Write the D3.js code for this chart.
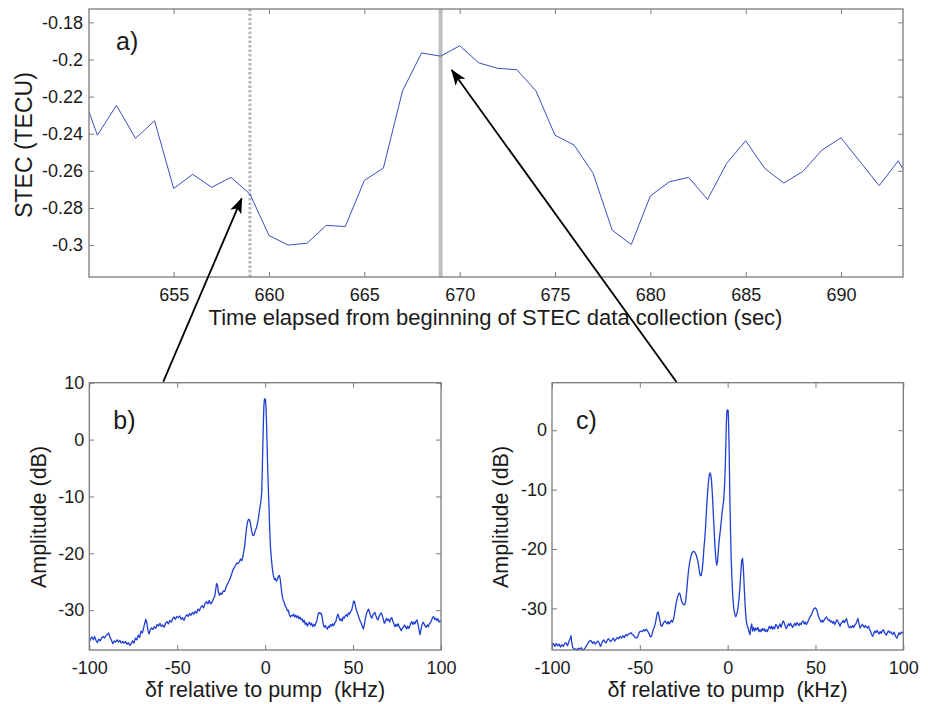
<!DOCTYPE html>
<html lang="en">
<head>
<meta charset="UTF-8">
<style>
    body { margin: 0; background: #fff; }
    svg text { font-family: "Liberation Sans", Arial, sans-serif; fill: #1a1a1a; }
    .tick text { font-size: 18px; }
    .axis path.domain { display: none; }
    .axis line { stroke: #7a7a7a; }
    .lbl { font-size: 21.5px; white-space: pre; }
    .panel { font-size: 25px; }
</style>
<script src="https://cdn.jsdelivr.net/npm/d3@7"></script>
</head>
<body>
<div id="chart"></div>
<script>
// panel a: STEC time series (one sample per second)
var stecTime = [650, 651, 652, 653, 654, 655, 656, 657, 658, 659, 660, 661, 662, 663, 664,
    665, 666, 667, 668, 669, 670, 671, 672, 673, 674, 675, 676, 677, 678, 679, 680, 681,
    682, 683, 684, 685, 686, 687, 688, 689, 690, 691, 692, 693, 694];
var stecValue = [-0.212, -0.2408, -0.2247, -0.2425, -0.2330, -0.2695, -0.2619, -0.2689, -0.2635,
    -0.2725, -0.2948, -0.3000, -0.2990, -0.2894, -0.2900, -0.2652, -0.2585, -0.2170, -0.1965,
    -0.1982, -0.1926, -0.2018, -0.2048, -0.2055, -0.2169, -0.2408, -0.2461, -0.2614, -0.2920,
    -0.2997, -0.2735, -0.2659, -0.2635, -0.2754, -0.2560, -0.2438, -0.2587, -0.2666, -0.2603,
    -0.2488, -0.2422, -0.2551, -0.2680, -0.2546, -0.2725];
var markerDotted = 659, markerSolid = 669;
var stecTicksY = [-0.3, -0.28, -0.26, -0.24, -0.22, -0.2, -0.18];
var stecTicksX = [655, 660, 665, 670, 675, 680, 685, 690];

// panel b: spectrum at t = 659 s  [kHz, dB]
var spectrumB = [[-100,-35.6],[-99.2,-35.0],[-98.5,-34.7],[-97.7,-35.2],[-97,-34.6],[-96.2,-35.3],[-95.4,-35.7],
    [-94.6,-35.1],[-93.8,-35.4],[-93,-34.9],[-92.2,-34.6],[-91.4,-34.9],[-90.6,-34.5],[-89.8,-34.3],[-89,-34.0],
    [-88.2,-34.8],[-87.4,-35.3],[-86.6,-35.9],[-85.8,-35.4],[-85,-35.6],[-84.2,-35.2],[-83.4,-35.6],[-82.6,-35.3],
    [-81.8,-35.8],[-81,-35.5],[-80.2,-35.8],[-79.4,-35.5],[-78.6,-36.0],[-77.8,-35.7],[-77,-36.2],[-76.2,-35.9],
    [-75.4,-35.4],[-74.6,-35.8],[-73.8,-34.9],[-73,-35.2],[-72.2,-34.4],[-71.4,-34.8],[-70.6,-33.7],[-69.8,-34.0],
    [-69,-33.0],[-68.4,-32.2],[-67.8,-31.6],[-67.2,-32.4],[-66.6,-33.6],[-66,-34.2],[-65.4,-33.5],[-64.6,-33.1],
    [-63.8,-33.4],[-63,-32.9],[-62.2,-33.2],[-61.4,-32.5],[-60.6,-32.8],[-59.8,-32.3],[-59,-32.9],[-58.2,-32.6],
    [-57.4,-33.0],[-56.6,-32.3],[-55.8,-32.0],[-55,-32.4],[-54.2,-31.8],[-53.4,-32.1],[-52.6,-31.5],[-51.8,-31.2],
    [-51,-31.6],[-50.2,-31.1],[-49.4,-31.3],[-48.6,-31.0],[-47.8,-31.6],[-47,-31.3],[-46.2,-31.8],[-45.4,-31.2],
    [-44.6,-30.8],[-43.8,-31.1],[-43,-30.6],[-42.2,-30.9],[-41.4,-30.4],[-40.6,-30.7],[-39.8,-30.2],[-39,-30.5],
    [-38.2,-29.8],[-37.4,-30.1],[-36.6,-29.5],[-35.8,-29.2],[-35,-29.6],[-34.2,-28.8],[-33.4,-28.5],[-32.6,-28.9],
    [-31.8,-28.3],[-31,-28.9],[-30.2,-28.6],[-29.4,-28.0],[-28.7,-27.6],[-28.1,-26.4],[-27.6,-25.3],[-27.1,-25.6],
    [-26.6,-26.8],[-26,-27.4],[-25.4,-27.0],[-24.6,-27.2],[-23.8,-26.6],[-23,-26.7],[-22.2,-25.9],[-21.4,-25.4],
    [-20.6,-24.9],[-19.8,-24.3],[-19,-23.6],[-18.3,-22.9],[-17.5,-22.5],[-16.8,-22.1],[-16.1,-21.7],[-15.4,-21.8],
    [-14.7,-21.5],[-14,-21.0],[-13.3,-21.3],[-12.7,-20.6],[-12.1,-19.6],[-11.6,-18.6],[-11.1,-17.0],[-10.6,-15.6],
    [-10.1,-14.6],[-9.6,-14.1],[-9.1,-14.0],[-8.6,-14.4],[-8.1,-15.2],[-7.6,-16.2],[-7.1,-16.8],[-6.6,-16.9],
    [-6.1,-16.6],[-5.6,-16.0],[-5.0,-15.6],[-4.4,-14.8],[-3.8,-13.8],[-3.3,-12.6],[-2.8,-11.6],[-2.3,-10.5],
    [-1.95,-9.4],[-1.6,-5.0],[-1.3,-0.8],[-1.0,3.0],[-0.7,6.0],[-0.4,7.1],[-0.1,7.2],[0.2,6.9],[0.5,5.6],
    [0.8,2.8],[1.1,-0.8],[1.4,-4.5],[1.8,-8.5],[2.2,-12.0],[2.6,-15.8],[3.0,-18.8],[3.5,-20.8],[4.0,-22.4],
    [4.6,-23.8],[5.2,-24.6],[5.8,-24.4],[6.4,-24.9],[7.0,-24.6],[7.6,-24.0],[8.1,-23.9],[8.6,-24.6],[9.1,-26.0],
    [9.6,-27.3],[10.2,-28.2],[10.8,-28.6],[11.4,-29.3],[12,-29.5],[12.6,-30.1],[13.2,-30.0],[13.8,-30.8],
    [14.4,-31.2],[15,-30.9],[15.6,-31.0],[16.2,-30.7],[16.8,-31.2],[17.4,-30.9],[18,-31.3],[18.6,-31.0],
    [19.2,-31.5],[19.8,-31.2],[20.4,-31.7],[21,-31.5],[21.6,-32.1],[22.2,-31.8],[22.8,-32.5],[23.4,-32.2],
    [24,-32.8],[24.6,-32.4],[25.2,-32.1],[25.8,-32.6],[26.4,-32.3],[27,-32.9],[27.6,-32.5],[28.2,-32.8],
    [28.8,-32.3],[29.4,-31.9],[30,-30.8],[30.6,-30.4],[31.2,-30.6],[31.8,-30.5],[32.4,-31.2],[33,-32.4],
    [33.6,-33.0],[34.2,-32.7],[34.8,-33.1],[35.4,-33.3],[36,-32.8],[36.6,-33.0],[37.2,-32.5],[37.8,-32.8],
    [38.4,-32.4],[39,-32.7],[39.6,-32.2],[40.2,-32.0],[40.8,-31.2],[41.4,-30.7],[42,-31.3],[42.6,-31.8],
    [43.2,-31.5],[43.8,-31.9],[44.4,-31.2],[45,-31.4],[45.6,-31.0],[46.2,-30.8],[46.8,-31.1],[47.4,-30.5],
    [48,-30.7],[48.6,-30.2],[49.2,-30.0],[49.8,-29.2],[50.3,-28.4],[50.8,-28.5],[51.3,-29.2],[51.8,-29.9],
    [52.4,-30.4],[53,-31.0],[53.6,-31.6],[54.2,-32.0],[54.8,-32.4],[55.4,-33.0],[55.9,-33.3],[56.5,-32.4],
    [57,-31.5],[57.6,-30.6],[58.2,-30.2],[58.8,-29.8],[59.4,-30.4],[60,-31.0],[60.6,-31.4],[61.2,-30.9],
    [61.8,-30.6],[62.4,-30.4],[63,-31.0],[63.6,-31.5],[64.2,-31.7],[64.8,-31.1],[65.4,-30.7],[66,-30.5],
    [66.6,-30.9],[67.2,-31.6],[67.8,-32.3],[68.4,-32.0],[69,-31.4],[69.6,-31.8],[70.2,-31.6],[70.8,-32.1],
    [71.4,-31.5],[72,-31.3],[72.6,-31.9],[73.2,-32.4],[73.8,-32.9],[74.4,-32.5],[75,-32.8],[75.6,-32.4],
    [76.2,-32.9],[76.8,-33.2],[77.4,-33.6],[78,-33.2],[78.6,-33.0],[79.2,-32.6],[79.8,-32.9],[80.4,-33.3],
    [81,-32.8],[81.6,-33.2],[82.2,-32.9],[82.8,-32.3],[83.4,-32.0],[84,-32.5],[84.6,-32.1],[85.2,-32.4],
    [85.8,-31.9],[86.4,-31.7],[87,-32.6],[87.6,-33.6],[88.1,-34.3],[88.6,-33.4],[89.2,-32.6],[89.8,-32.1],
    [90.4,-32.4],[91,-32.8],[91.6,-33.0],[92.2,-32.6],[92.8,-32.9],[93.4,-32.4],[94,-32.2],[94.6,-31.8],
    [95.2,-31.3],[95.8,-31.1],[96.4,-31.6],[97,-31.4],[97.6,-31.8],[98.2,-31.5],[98.8,-32.1],[99.4,-31.9],[100,-32.0]];

// panel c: spectrum at t = 669 s  [kHz, dB]
var spectrumC = [[-100,-36.2],[-99.2,-35.9],[-98.4,-36.4],[-97.6,-35.9],[-96.8,-36.3],[-96,-36.0],[-95.2,-36.5],
    [-94.4,-36.1],[-93.6,-36.4],[-92.8,-35.9],[-92,-35.8],[-91.2,-36.3],[-90.4,-35.6],[-89.6,-35.0],[-89.2,-34.6],
    [-88.8,-35.6],[-88.2,-36.6],[-87.4,-36.9],[-86.6,-36.8],[-85.8,-37.0],[-85,-36.7],[-84.2,-36.9],[-83.4,-36.6],
    [-82.6,-37.0],[-81.8,-36.9],[-81,-36.6],[-80.2,-36.2],[-79.6,-35.9],[-79,-35.6],[-78.2,-35.4],[-77.6,-35.5],
    [-77,-35.9],[-76.2,-35.6],[-75.4,-36.0],[-74.6,-35.7],[-73.8,-35.5],[-73,-35.9],[-72.4,-36.4],[-71.8,-36.0],
    [-71.2,-35.5],[-70.6,-35.3],[-70,-35.6],[-69.3,-35.8],[-68.6,-35.4],[-68,-35.1],[-67.4,-35.3],[-66.6,-35.6],
    [-65.8,-35.3],[-65,-35.0],[-64.4,-35.5],[-63.6,-35.2],[-62.8,-34.9],[-62,-35.1],[-61.2,-34.7],[-60.4,-35.0],
    [-59.6,-34.6],[-58.8,-34.9],[-58,-34.4],[-57.2,-34.6],[-56.4,-34.3],[-55.6,-34.2],[-55,-34.1],[-54.2,-34.4],
    [-53.4,-34.6],[-52.6,-34.9],[-52,-35.0],[-51.2,-34.8],[-50.6,-34.2],[-50,-33.9],[-49.3,-33.8],[-48.6,-33.9],
    [-47.8,-33.6],[-47.2,-33.8],[-46.4,-33.5],[-45.6,-33.8],[-44.8,-34.2],[-44.2,-34.7],[-43.6,-34.8],[-43,-34.3],
    [-42.4,-33.6],[-41.8,-33.2],[-41.2,-32.6],[-40.6,-31.6],[-40.1,-30.8],[-39.6,-30.6],[-39.1,-31.2],[-38.6,-32.0],
    [-38,-32.9],[-37.4,-33.0],[-36.8,-32.6],[-36.2,-32.3],[-35.6,-32.1],[-35,-32.4],[-34.4,-32.6],[-33.8,-32.2],
    [-33.2,-32.6],[-32.6,-32.3],[-32,-32.0],[-31.4,-32.3],[-30.8,-31.8],[-30.3,-31.0],[-29.8,-30.0],[-29.2,-29.0],
    [-28.7,-28.3],[-28.2,-27.8],[-27.6,-27.4],[-27.1,-27.6],[-26.6,-28.3],[-26.1,-28.9],[-25.6,-29.2],[-25,-29.4],
    [-24.4,-29.3],[-23.8,-28.6],[-23.3,-27.0],[-22.8,-25.2],[-22.3,-23.7],[-21.8,-22.6],[-21.2,-21.6],[-20.6,-20.9],
    [-20,-20.5],[-19.4,-20.4],[-18.8,-20.5],[-18.2,-20.8],[-17.6,-21.3],[-17,-22.0],[-16.5,-22.9],[-16,-24.0],
    [-15.5,-24.5],[-15,-24.4],[-14.5,-23.6],[-14,-22.0],[-13.5,-19.8],[-13,-18.2],[-12.5,-16.0],[-12,-13.2],
    [-11.5,-10.8],[-11,-8.9],[-10.5,-7.6],[-10.1,-7.2],[-9.7,-7.4],[-9.2,-8.4],[-8.7,-10.8],[-8.2,-13.8],
    [-7.7,-16.8],[-7.2,-19.6],[-6.7,-21.7],[-6.2,-22.7],[-5.7,-22.0],[-5.2,-19.8],[-4.7,-18.2],[-4.2,-17.0],
    [-3.7,-15.5],[-3.2,-14.0],[-2.7,-12.8],[-2.2,-11.6],[-1.7,-9.0],[-1.3,-5.5],[-1.0,-2.0],[-0.7,1.5],[-0.4,3.3],
    [0,3.4],[0.3,3.3],[0.6,0.5],[0.9,-4.0],[1.2,-10.5],[1.6,-16.5],[2.0,-21.5],[2.5,-25.5],[3.0,-28.4],[3.5,-30.0],
    [4.0,-30.9],[4.6,-31.4],[5.2,-31.0],[5.8,-30.1],[6.4,-28.6],[7.0,-26.3],[7.5,-24.0],[8.0,-21.9],[8.5,-21.6],
    [9.0,-23.6],[9.5,-26.8],[10.0,-29.8],[10.5,-31.8],[11.0,-32.8],[11.6,-33.2],[12.2,-34.0],[12.7,-34.4],
    [13.2,-33.2],[13.7,-32.6],[14.2,-33.8],[14.8,-33.2],[15.4,-33.8],[16,-33.3],[16.6,-33.6],[17.2,-33.2],
    [17.8,-33.9],[18.4,-33.6],[19,-33.9],[19.6,-33.4],[20.2,-33.7],[20.8,-33.4],[21.4,-33.9],[22,-33.6],
    [22.6,-33.9],[23.2,-33.4],[23.8,-33.0],[24.4,-33.4],[25,-33.0],[25.6,-33.5],[26.2,-33.1],[26.8,-33.4],
    [27.4,-32.7],[28,-32.9],[28.6,-33.4],[29.2,-33.0],[29.8,-32.6],[30.4,-33.2],[31,-32.6],[31.6,-32.1],
    [32.2,-32.4],[32.8,-33.0],[33.4,-33.4],[34,-33.0],[34.6,-32.6],[35.2,-32.9],[35.8,-32.5],[36.4,-32.9],
    [37,-33.2],[37.6,-32.8],[38.2,-32.5],[38.8,-32.9],[39.4,-32.4],[40,-32.6],[40.6,-32.9],[41.2,-32.5],
    [41.8,-32.7],[42.4,-32.3],[43,-32.1],[43.6,-32.6],[44.2,-32.3],[44.8,-32.7],[45.4,-32.4],[46,-32.0],
    [46.6,-31.6],[47.2,-31.3],[47.8,-31.0],[48.4,-30.5],[49,-30.1],[49.6,-29.9],[50.2,-30.0],[50.8,-30.3],
    [51.4,-31.0],[52,-31.6],[52.6,-31.9],[53.2,-32.3],[53.8,-32.0],[54.4,-32.3],[55,-31.9],[55.6,-31.7],
    [56.2,-31.4],[56.8,-31.7],[57.4,-32.0],[58,-31.9],[58.6,-32.3],[59.2,-32.1],[59.8,-32.5],[60.4,-32.2],
    [61,-32.7],[61.6,-32.3],[62.2,-31.9],[62.8,-32.2],[63.4,-32.6],[64,-33.0],[64.6,-32.5],[65.2,-32.3],
    [65.8,-32.0],[66.4,-32.4],[67,-32.1],[67.6,-31.7],[68.2,-32.4],[68.8,-33.0],[69.4,-33.3],[70,-33.0],
    [70.6,-33.2],[71.2,-32.9],[71.8,-33.2],[72.4,-32.8],[73,-32.6],[73.6,-32.1],[74.2,-31.7],[74.8,-32.6],
    [75.4,-33.3],[76,-33.0],[76.6,-32.7],[77.2,-32.9],[77.8,-33.2],[78.4,-32.9],[79,-33.1],[79.6,-33.3],
    [80.2,-33.0],[80.8,-33.5],[81.4,-33.9],[82,-34.4],[82.6,-34.7],[83.2,-34.2],[83.8,-33.8],[84.4,-34.1],
    [85,-33.7],[85.6,-34.0],[86.2,-34.3],[86.8,-33.9],[87.4,-34.2],[88,-33.8],[88.6,-33.6],[89.2,-34.0],
    [89.8,-34.3],[90.4,-34.5],[91,-34.0],[91.6,-33.8],[92.2,-34.1],[92.8,-33.9],[93.4,-34.2],[94,-34.4],
    [94.6,-34.0],[95.2,-34.3],[95.8,-34.8],[96.4,-35.0],[97,-34.5],[97.6,-34.1],[98.2,-34.4],[98.8,-34.0],
    [99.4,-34.1],[100,-34.0]];

var freqTicks = [-100, -50, 0, 50, 100];
var ampTicksB = [-30, -20, -10, 0, 10];
var ampTicksC = [-30, -20, -10, 0];

var W = 928, H = 704;
var svg = d3.select("#chart").append("svg")
    .attr("width", W)
    .attr("height", H);

var defs = svg.append("defs");
defs.append("marker")
    .attr("id", "head")
    .attr("markerUnits", "userSpaceOnUse")
    .attr("viewBox", "0 0 16 12")
    .attr("markerWidth", 16)
    .attr("markerHeight", 12)
    .attr("refX", 15)
    .attr("refY", 6)
    .attr("orient", "auto")
    .append("path")
    .attr("d", "M0,0 L16,6 L0,12 L4,6 Z")
    .attr("fill", "#000");

// plain hyphen minus like the original (d3.format would give U+2212)
function plain(d) { return String(+d.toFixed(2)); }

// draws a MATLAB style boxed axes with inward ticks on all four sides
function boxAxes(g, x, y, xt, yt, pad) {
    var w = x.range()[1] - x.range()[0];
    var h = y.range()[0] - y.range()[1];
    g.append("g").attr("class", "axis")
        .attr("transform", "translate(0," + h + ")")
        .call(d3.axisBottom(x).tickValues(xt).tickSize(-5).tickPadding(pad.x).tickFormat(plain));
    g.append("g").attr("class", "axis")
        .call(d3.axisTop(x).tickValues(xt).tickSize(-5).tickFormat(""));
    g.append("g").attr("class", "axis")
        .call(d3.axisLeft(y).tickValues(yt).tickSize(-5).tickPadding(pad.y).tickFormat(plain));
    g.append("g").attr("class", "axis")
        .attr("transform", "translate(" + w + ",0)")
        .call(d3.axisRight(y).tickValues(yt).tickSize(-5).tickFormat(""));
    g.selectAll(".tick text").attr("fill", "#1a1a1a");
    g.append("rect")
        .attr("width", w)
        .attr("height", h)
        .attr("fill", "none")
        .attr("stroke", "#7a7a7a")
        .attr("stroke-width", 1.3);
}

// ---- panel a ----
var a = { left: 89, top: 9, right: 903, bottom: 277 };
var xa = d3.scaleLinear().domain([650.56, 693.25]).range([0, a.right - a.left]);
var ya = d3.scaleLinear().domain([-0.3172, -0.1728]).range([a.bottom - a.top, 0]);
var ga = svg.append("g").attr("transform", "translate(" + a.left + "," + a.top + ")");

defs.append("clipPath").attr("id", "clipA")
    .append("rect")
    .attr("width", a.right - a.left)
    .attr("height", a.bottom - a.top);

ga.append("line")
    .attr("x1", xa(markerDotted)).attr("x2", xa(markerDotted))
    .attr("y1", 0).attr("y2", a.bottom - a.top)
    .attr("stroke", "#b4b4b4")
    .attr("stroke-width", 3)
    .attr("stroke-dasharray", "2.5,2");
ga.append("line")
    .attr("x1", xa(markerSolid)).attr("x2", xa(markerSolid))
    .attr("y1", 0).attr("y2", a.bottom - a.top)
    .attr("stroke", "#bdbdbd")
    .attr("stroke-width", 4);

ga.append("path")
    .datum(d3.zip(stecTime, stecValue))
    .attr("clip-path", "url(#clipA)")
    .attr("fill", "none")
    .attr("stroke", "#3a4ec0")
    .attr("stroke-width", 1)
    .attr("d", d3.line().x(function (d) { return xa(d[0]); }).y(function (d) { return ya(d[1]); }));

boxAxes(ga, xa, ya, stecTicksX, stecTicksY, { x: 11, y: 6 });

ga.append("text").attr("class", "panel").attr("x", 27).attr("y", 41).text("a)");
ga.append("text").attr("class", "lbl")
    .attr("x", 495.5 - a.left).attr("y", 325 - a.top)
    .attr("text-anchor", "middle")
    .style("font-size", "22px")
    .text("Time elapsed from beginning of STEC data collection (sec)");
svg.append("text").attr("class", "lbl")
    .attr("transform", "translate(32,145) rotate(-90)")
    .attr("text-anchor", "middle")
    .style("font-size", "23px")
    .text("STEC (TECU)");

// ---- panels b and c ----
function spectrumPanel(box, data, yDomain, yTicks, letter, labelX) {
    var x = d3.scaleLinear().domain([-100, 100]).range([0, box.right - box.left]);
    var y = d3.scaleLinear().domain(yDomain).range([box.bottom - box.top, 0]);
    var g = svg.append("g").attr("transform", "translate(" + box.left + "," + box.top + ")");
    g.append("path")
        .datum(data)
        .attr("fill", "none")
        .attr("stroke", "#1f3fd4")
        .attr("stroke-width", 1.3)
        .attr("stroke-linejoin", "round")
        .attr("d", d3.line().x(function (d) { return x(d[0]); }).y(function (d) { return y(d[1]); }));
    boxAxes(g, x, y, freqTicks, yTicks, { x: 11, y: 5 });
    g.append("text").attr("class", "panel").attr("x", 24).attr("y", 46).text(letter);
    g.append("text").attr("class", "lbl")
        .attr("x", (box.right - box.left) / 2).attr("y", 697 - box.top)
        .attr("text-anchor", "middle")
        .text("\u03b4f relative to pump  (kHz)");
    svg.append("text").attr("class", "lbl")
        .attr("transform", "translate(" + labelX + ",517) rotate(-90)")
        .attr("text-anchor", "middle")
        .text("Amplitude (dB)");
}

spectrumPanel({ left: 89.3, top: 382.7, right: 441, bottom: 650 }, spectrumB, [-37, 10], ampTicksB, "b)", 46);
spectrumPanel({ left: 552, top: 382.7, right: 903.3, bottom: 650 }, spectrumC, [-37, 8], ampTicksC, "c)", 508);

// ---- arrows linking the marked times to the spectra ----
var arrows = [
    { from: [163.3, 381.7], to: [241.7, 198.3] },
    { from: [676.5, 382], to: [451.7, 70] }
];
svg.selectAll("line.arrow")
    .data(arrows)
    .enter()
    .append("line")
    .attr("class", "arrow")
    .attr("x1", function (d) { return d.from[0]; })
    .attr("y1", function (d) { return d.from[1]; })
    .attr("x2", function (d) { return d.to[0]; })
    .attr("y2", function (d) { return d.to[1]; })
    .attr("stroke", "#000")
    .attr("stroke-width", 1.8)
    .attr("marker-end", "url(#head)");
</script>
</body>
</html>
